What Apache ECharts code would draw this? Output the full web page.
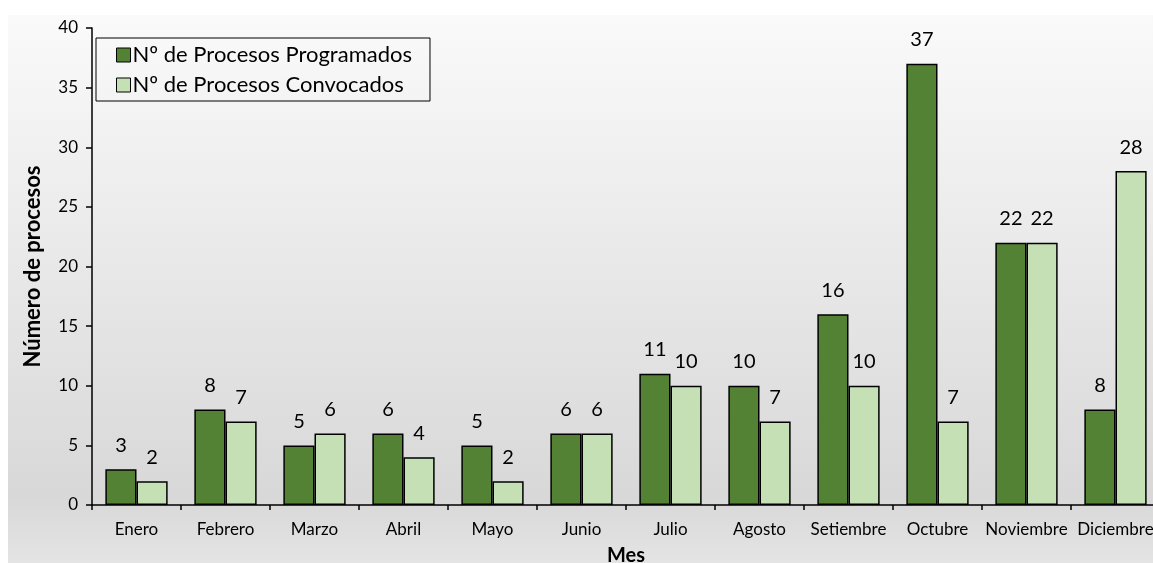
<!DOCTYPE html>
<html>
<head>
<meta charset="utf-8">
<title>Procesos por mes</title>
<script src="https://cdn.jsdelivr.net/npm/echarts@6/dist/echarts.min.js"></script>
<style>
  html, body { margin: 0; padding: 0; background: #fff; }
  #chart { width: 1153px; height: 563px; }
</style>
</head>
<body>
<div id="chart"></div>
<script>
const meses = ['Enero', 'Febrero', 'Marzo', 'Abril', 'Mayo', 'Junio', 'Julio', 'Agosto', 'Setiembre', 'Octubre', 'Noviembre', 'Diciembre']
const programados = [3, 8, 5, 6, 5, 6, 11, 10, 16, 37, 22, 8]
const convocados = [2, 7, 6, 4, 2, 6, 10, 7, 10, 7, 22, 28]

const FONT = 'Lato, "Open Sans", sans-serif'

const myChart = echarts.init(document.getElementById('chart'))

const labelStyle = {
  show: true,
  position: 'top',
  distance: 14,
  color: '#000',
  fontSize: 20,
  fontFamily: FONT
}

const option = {
  backgroundColor: '#fff',
  textStyle: { fontFamily: FONT },
  graphic: [
    {
      type: 'rect',
      z: -10,
      silent: true,
      shape: { x: 8, y: 15, width: 1145, height: 548 },
      style: {
        fill: new echarts.graphic.LinearGradient(0, 0, 0, 1, [
          { offset: 0, color: '#fafafa' },
          { offset: 0.88, color: '#d8d8d8' },
          { offset: 1, color: '#e4e4e4' }
        ])
      }
    }
  ],
  legend: {
    orient: 'vertical',
    left: 96,
    top: 38,
    borderColor: '#000',
    borderWidth: 1,
    padding: [6, 18, 5, 20],
    itemGap: 8,
    itemWidth: 14,
    itemHeight: 14,
    icon: 'rect',
    itemStyle: { borderColor: '#000', borderWidth: 1 },
    textStyle: { fontSize: 22, color: '#000', fontFamily: FONT, padding: [0, 0, 0, -3] },
    data: ['Nº de Procesos Programados', 'Nº de Procesos Convocados']
  },
  grid: {
    left: 92,
    top: 28,
    width: 1068,
    bottom: 58,
    outerBoundsMode: 'none',
    containLabel: false
  },
  xAxis: {
    type: 'category',
    data: meses,
    name: 'Mes',
    nameLocation: 'middle',
    nameGap: 41,
    nameTextStyle: { fontSize: 20, fontWeight: 'bold', color: '#000', fontFamily: FONT },
    axisLine: { lineStyle: { color: '#000', width: 1.5 } },
    axisTick: { show: true, alignWithLabel: false, length: 5, lineStyle: { color: '#000', width: 1.5 } },
    axisLabel: { color: '#000', fontSize: 17, margin: 16, interval: 0, fontFamily: FONT }
  },
  yAxis: {
    type: 'value',
    min: 0,
    max: 40,
    interval: 5,
    name: 'Número de procesos',
    nameLocation: 'middle',
    nameRotate: 90,
    nameGap: 48,
    nameTextStyle: { fontSize: 22, fontWeight: 'bold', color: '#000', fontFamily: FONT },
    splitLine: { show: false },
    axisLine: { show: true, lineStyle: { color: '#000', width: 1.5 } },
    axisTick: { show: true, length: 6, lineStyle: { color: '#000', width: 1.5 } },
    axisLabel: { color: '#000', fontSize: 17, margin: 14, fontFamily: FONT }
  },
  series: [
    {
      name: 'Nº de Procesos Programados',
      type: 'bar',
      data: programados,
      barGap: '0%',
      barCategoryGap: '30%',
      itemStyle: { color: '#548235', borderColor: '#000', borderWidth: 1.5 },
      label: labelStyle
    },
    {
      name: 'Nº de Procesos Convocados',
      type: 'bar',
      data: convocados,
      itemStyle: { color: '#c5e0b4', borderColor: '#000', borderWidth: 1.5 },
      label: labelStyle
    }
  ],
  animation: false
}

option && myChart.setOption(option)
</script>
</body>
</html>
